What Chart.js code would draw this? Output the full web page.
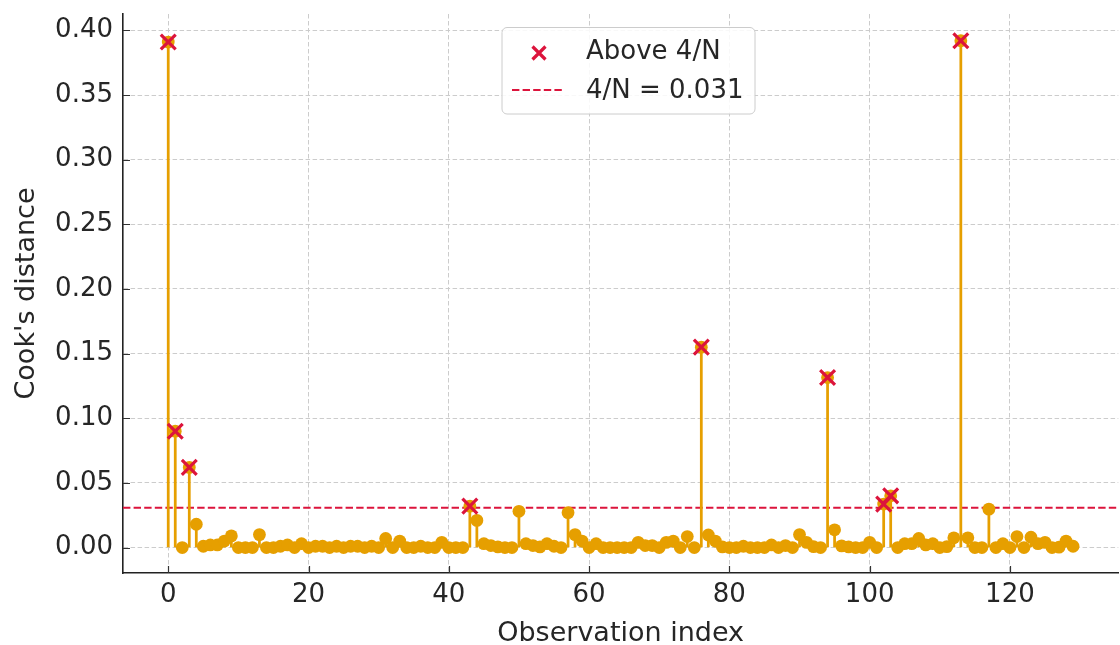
<!DOCTYPE html>
<html>
<head>
<meta charset="utf-8">
<script src="https://cdn.jsdelivr.net/npm/chart.js@4.4.1/dist/chart.umd.min.js"></script>
<style>
html, body { margin: 0; padding: 0; background: #fff; overflow: hidden; }
#wrap { width: 1132px; height: 645px; }
</style>
</head>
<body>
<div id="wrap"><canvas id="canvas1" width="1132" height="645"></canvas></div>
<script>
// Cook's distance per observation (index 0..129)
var cooks = [
    0.391, 0.090, 0.000, 0.062, 0.018, 0.001, 0.002, 0.002, 0.005, 0.009,
    0.000, 0.000, 0.000, 0.010, 0.000, 0.000, 0.001, 0.002, 0.000, 0.003,
    0.000, 0.001, 0.001, 0.000, 0.001, 0.000, 0.001, 0.001, 0.000, 0.001,
    0.000, 0.007, 0.000, 0.005, 0.000, 0.000, 0.001, 0.000, 0.000, 0.004,
    0.000, 0.000, 0.000, 0.032, 0.021, 0.003, 0.0015, 0.0005, 0.000, 0.000,
    0.028, 0.003, 0.0015, 0.0005, 0.003, 0.001, 0.000, 0.027, 0.010, 0.005,
    0.000, 0.003, 0.000, 0.000, 0.000, 0.000, 0.000, 0.004, 0.0015, 0.0015,
    0.000, 0.004, 0.005, 0.000, 0.0085, 0.000, 0.155, 0.0097, 0.005, 0.0005,
    0.000, 0.000, 0.001, 0.000, 0.000, 0.000, 0.002, 0.000, 0.0015, 0.000,
    0.010, 0.004, 0.0007, 0.000, 0.1315, 0.0137, 0.0013, 0.0005, 0.000, 0.000,
    0.004, 0.000, 0.0336, 0.040, 0.000, 0.003, 0.003, 0.007, 0.002, 0.003,
    0.000, 0.0007, 0.0075, 0.392, 0.0075, 0.000, 0.000, 0.0297, 0.000, 0.003,
    0.000, 0.0085, 0.000, 0.008, 0.003, 0.004, 0.000, 0.0003, 0.005, 0.001
];
var xTickVals = [0, 20, 40, 60, 80, 100, 120];
var yTickVals = [0, 0.05, 0.10, 0.15, 0.20, 0.25, 0.30, 0.35, 0.40];
var xRange = [-6.45, 135.45];
var yRange = [-0.0197, 0.4127];

var N = cooks.length;
var thresh = 4 / N;
var legendLabels = ['Above 4/N', '4/N = ' + thresh.toFixed(3)];

var orange = '#E69F00';
var crimson = '#DC143C';
var textColor = '#262626';

var points = cooks.map(function(v, i){ return {x: i, y: v}; });
var above = points.filter(function(p){ return p.y > thresh; });

Chart.defaults.font.family = '"DejaVu Sans", sans-serif';

// inward tick marks + legend box, matplotlib style
var axisExtras = {
    id: 'axisExtras',
    afterDraw: function(chart){
        var ctx = chart.ctx;
        var xs = chart.scales.x, ys = chart.scales.y;
        var area = chart.chartArea;
        ctx.save();
        ctx.strokeStyle = '#333';
        ctx.lineWidth = 1.2;
        ctx.beginPath();
        xTickVals.forEach(function(v){
            var px = Math.round(xs.getPixelForValue(v)) + 0.5;
            ctx.moveTo(px, area.bottom);
            ctx.lineTo(px, area.bottom - 7);
        });
        yTickVals.forEach(function(v){
            var py = Math.round(ys.getPixelForValue(v)) + 0.5;
            ctx.moveTo(area.left, py);
            ctx.lineTo(area.left + 7, py);
        });
        ctx.stroke();

        // legend
        ctx.beginPath();
        ctx.roundRect(502, 27.5, 253, 86.5, 5);
        ctx.fillStyle = 'rgba(255,255,255,0.85)';
        ctx.fill();
        ctx.strokeStyle = '#cccccc';
        ctx.lineWidth = 1;
        ctx.stroke();

        ctx.strokeStyle = crimson;
        ctx.lineWidth = 3.2;
        ctx.beginPath();
        ctx.moveTo(539 - 6.5, 53 - 6.5); ctx.lineTo(539 + 6.5, 53 + 6.5);
        ctx.moveTo(539 - 6.5, 53 + 6.5); ctx.lineTo(539 + 6.5, 53 - 6.5);
        ctx.stroke();

        ctx.lineWidth = 2;
        ctx.setLineDash([7.4, 3.2]);
        ctx.beginPath();
        ctx.moveTo(512, 90); ctx.lineTo(562, 90);
        ctx.stroke();
        ctx.setLineDash([]);

        ctx.fillStyle = textColor;
        ctx.font = '26px "DejaVu Sans"';
        ctx.textBaseline = 'middle';
        ctx.textAlign = 'left';
        ctx.fillText(legendLabels[0], 586, 52);
        ctx.fillText(legendLabels[1], 586, 91);
        ctx.restore();
    }
};

var ctx = document.getElementById('canvas1');
var chart = new Chart(ctx, {
    type: 'scatter',
    data: {
        datasets: [
            {
                type: 'line',
                label: legendLabels[1],
                data: [{x: xRange[0], y: thresh}, {x: xRange[1], y: thresh}],
                borderColor: crimson,
                borderWidth: 2,
                borderDash: [7.4, 3.2],
                pointRadius: 0,
                order: 4
            },
            {
                type: 'bar',
                label: 'stems',
                data: points,
                backgroundColor: orange,
                borderWidth: 0,
                barThickness: 2.1,
                order: 3
            },
            {
                type: 'scatter',
                label: "Cook's distance",
                data: points,
                backgroundColor: orange,
                borderColor: orange,
                borderWidth: 0,
                pointRadius: 6.4,
                order: 2
            },
            {
                type: 'scatter',
                label: legendLabels[0],
                data: above,
                pointStyle: 'crossRot',
                pointRadius: 10.5,
                borderColor: crimson,
                borderWidth: 3.2,
                order: 1
            }
        ]
    },
    plugins: [axisExtras],
    options: {
        responsive: false,
        animation: false,
        events: [],
        layout: { padding: { top: 14, left: 0, right: 0, bottom: 0 } },
        plugins: { legend: { display: false }, tooltip: { enabled: false } },
        scales: {
            x: {
                type: 'linear',
                min: xRange[0],
                max: xRange[1],
                offset: false,
                afterBuildTicks: function(scale){
                    scale.ticks = xTickVals.map(function(v){ return {value: v}; });
                },
                afterFit: function(scale){
                    scale.height = 72;
                    scale.paddingLeft = 0;
                    scale.paddingRight = 0;
                },
                ticks: {
                    autoSkip: false,
                    maxRotation: 0,
                    padding: 7,
                    color: textColor,
                    font: { size: 26 },
                    callback: function(v){ return String(v); }
                },
                grid: { color: '#cccccc', lineWidth: 1, drawTicks: false, offset: false },
                border: { display: true, color: '#222', width: 1.6, dash: [4.5, 2.5] },
                title: {
                    display: true,
                    text: 'Observation index',
                    color: textColor,
                    font: { size: 27, lineHeight: 0.8 },
                    padding: 0
                }
            },
            y: {
                type: 'linear',
                min: yRange[0],
                max: yRange[1],
                afterBuildTicks: function(scale){
                    scale.ticks = yTickVals.map(function(v){ return {value: v}; });
                },
                afterFit: function(scale){
                    scale.width = 123;
                    scale.paddingTop = 0;
                    scale.paddingBottom = 0;
                },
                ticks: {
                    autoSkip: false,
                    padding: 10,
                    color: textColor,
                    font: { size: 26 },
                    callback: function(v){ return v.toFixed(2); }
                },
                grid: { color: '#cccccc', lineWidth: 1, drawTicks: false },
                border: { display: true, color: '#222', width: 1.6, dash: [4.5, 2.5] },
                title: {
                    display: true,
                    text: "Cook's distance",
                    color: textColor,
                    font: { size: 27, lineHeight: 1.2 },
                    padding: { top: 11, bottom: 0 }
                }
            }
        }
    }
});
</script>
</body>
</html>
